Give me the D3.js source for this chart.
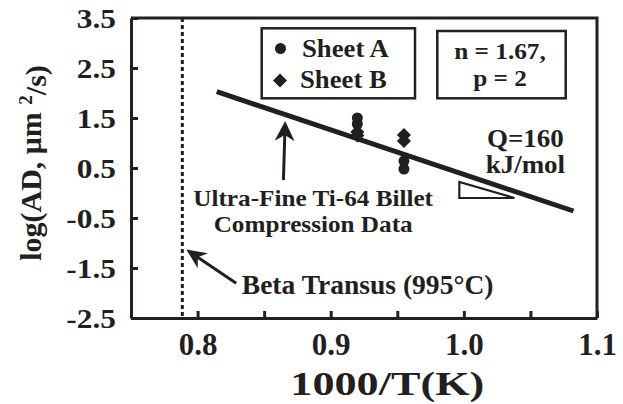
<!DOCTYPE html>
<html>
<head>
<meta charset="utf-8">
<script src="https://cdn.jsdelivr.net/npm/d3@7/dist/d3.min.js"></script>
<style>
  html, body { margin: 0; padding: 0; background: #fff; }
  svg { display: block; }
  text { font-family: "Liberation Serif", "Times New Roman", serif; font-weight: bold; fill: #231f20; }
</style>
</head>
<body>
<svg id="chart" width="623" height="404"></svg>
<script>
// Diffusivity data, log(AD) vs 1000/T
const sheetA_x = [0.920, 0.920, 0.955, 0.955];
const sheetA_y = [1.50, 1.38, 0.64, 0.48];
const sheetB_x = [0.920, 0.920, 0.955, 0.955];
const sheetB_y = [1.22, 1.15, 1.16, 1.04];

// Ultra-fine Ti-64 billet compression fit (two end points)
const fit_x = [0.8144, 1.0823];
const fit_y = [2.026, -0.36];

// Beta transus at 995 °C
const betaTransusC = 995;

const xTicks = [0.75, 0.80, 0.85, 0.90, 0.95, 1.00, 1.05, 1.10];
const xTickLabels = [0.8, 0.9, 1.0, 1.1];
const yTicks = [-2.5, -1.5, -0.5, 0.5, 1.5, 2.5, 3.5];

const margin = { left: 131, right: 26, top: 18, bottom: 86 };
const W = 623, H = 404;
const svg = d3.select("#chart");
const ink = "#231f20";
const fmt = d => d3.format(".1f")(d).replace("\u2212", "-");

const x = d3.scaleLinear().domain([0.75, 1.10]).range([margin.left, W - margin.right]);
const y = d3.scaleLinear().domain([-2.5, 3.5]).range([H - margin.bottom, margin.top]);

// frame: top and right edges
svg.append("path")
  .attr("d", `M${x(0.75)},${y(3.5)}H${x(1.10)}V${y(-2.5)}`)
  .attr("fill", "none").attr("stroke", ink).attr("stroke-width", 3);

// y axis
const yAxis = svg.append("g")
  .attr("transform", `translate(${x(0.75)},0)`)
  .call(d3.axisLeft(y).tickValues(yTicks).tickSize(-7).tickSizeOuter(0).tickPadding(15)
    .tickFormat(fmt));
yAxis.select(".domain").attr("stroke", ink).attr("stroke-width", 3);
yAxis.selectAll(".tick line").attr("stroke", ink).attr("stroke-width", 3);
yAxis.selectAll(".tick text")
  .style("font-size", "28px").attr("fill", ink).attr("dy", "0.34em")
  .attr("x", null)
  .attr("transform", "translate(-15,0) scale(1.12,1)");

// x axis
const xAxis = svg.append("g")
  .attr("transform", `translate(0,${y(-2.5)})`)
  .call(d3.axisBottom(x).tickValues(xTicks).tickSize(-7).tickSizeOuter(0).tickPadding(15)
    .tickFormat(d => xTickLabels.some(v => Math.abs(v - d) < 1e-9) ? fmt(d) : ""));
xAxis.select(".domain").attr("stroke", ink).attr("stroke-width", 3);
xAxis.selectAll(".tick line").attr("stroke", ink).attr("stroke-width", 3);
xAxis.selectAll(".tick text").style("font-size", "31px").attr("fill", ink);

// axis titles
svg.append("text")
  .attr("transform", `translate(${x(0.9425)},395) scale(1.3,1)`)
  .attr("text-anchor", "middle")
  .style("font-size", "34px")
  .text("1000/T(K)");

const yTitle = svg.append("text")
  .attr("transform", `translate(41,163) rotate(-90)`)
  .attr("text-anchor", "middle")
  .style("font-size", "30px");
yTitle.append("tspan").text("log(AD, μm ");
yTitle.append("tspan").attr("dy", "-0.45em").style("font-size", "19px").text("2");
yTitle.append("tspan").attr("dy", "0.45em").text("/s)");

// beta transus dotted line
const xBeta = 1000 / (betaTransusC + 273.15);
svg.append("line")
  .attr("x1", x(xBeta)).attr("x2", x(xBeta))
  .attr("y1", y(3.5)).attr("y2", y(-2.5))
  .attr("stroke", ink).attr("stroke-width", 3).attr("stroke-dasharray", "4,3");

// fitted line
svg.append("line")
  .attr("x1", x(fit_x[0])).attr("y1", y(fit_y[0]))
  .attr("x2", x(fit_x[1])).attr("y2", y(fit_y[1]))
  .attr("stroke", ink).attr("stroke-width", 5);

// markers: square diamonds and circles
const diamond = d3.symbol().type(d3.symbolSquare).size(100);
svg.append("g").selectAll("path")
  .data(sheetB_x.map((v, i) => [v, sheetB_y[i]]))
  .join("path")
  .attr("d", diamond)
  .attr("transform", d => `translate(${x(d[0])},${y(d[1])}) rotate(45)`)
  .attr("fill", ink);
svg.append("g").selectAll("circle")
  .data(sheetA_x.map((v, i) => [v, sheetA_y[i]]))
  .join("circle")
  .attr("cx", d => x(d[0])).attr("cy", d => y(d[1])).attr("r", 5.5)
  .attr("fill", ink);

// arrows
function arrow(x0, y0, x1, y1, len, half) {
  const px0 = x(x0), py0 = y(y0), px1 = x(x1), py1 = y(y1);
  const a = Math.atan2(py1 - py0, px1 - px0);
  const ux = Math.cos(a), uy = Math.sin(a);
  const bx = px1 - ux * len, by = py1 - uy * len;
  svg.append("line")
    .attr("x1", px0).attr("y1", py0)
    .attr("x2", px1 - ux * len * 0.6).attr("y2", py1 - uy * len * 0.6)
    .attr("stroke", ink).attr("stroke-width", 3);
  const nx = px1 - ux * len * 0.7, ny = py1 - uy * len * 0.7;
  svg.append("path")
    .attr("d", `M${px1},${py1}L${bx - uy * half},${by + ux * half}L${nx},${ny}L${bx + uy * half},${by - ux * half}Z`)
    .attr("fill", ink);
}
arrow(0.8645, 0.26, 0.8658, 1.44, 20, 10);
arrow(0.829, -1.806, 0.7915, -1.13, 20, 9);

// activation energy triangle
svg.append("path")
  .attr("d", `M${x(0.9966)},${y(0.22)}L${x(0.9966)},${y(-0.1)}L${x(1.038)},${y(-0.1)}Z`)
  .attr("fill", "none").attr("stroke", ink).attr("stroke-width", 2.2);

// annotation text
function label(xv, yv, txt, size, anchor, sx) {
  svg.append("text")
    .attr("transform", `translate(${x(xv)},${y(yv)}) scale(${sx},1)`)
    .attr("text-anchor", anchor)
    .style("font-size", size + "px")
    .text(txt);
}
label(0.8868, -0.26, "Ultra-Fine Ti-64 Billet", 24, "middle", 1.05);
label(0.8868, -0.78, "Compression Data", 24, "middle", 1.05);
label(0.8332, -2.02, "Beta Transus (995°C)", 27, "start", 1.02);
label(1.0462, 0.926, "Q=160", 25, "middle", 1.08);
label(1.0462, 0.40, "kJ/mol", 25, "middle", 1.08);

// legend box
svg.append("rect")
  .attr("x", 261.7).attr("y", 28.3).attr("width", 153.3).attr("height", 70)
  .attr("fill", "none").attr("stroke", ink).attr("stroke-width", 2.5);
svg.append("circle").attr("cx", 280.5).attr("cy", 48.5).attr("r", 5.5).attr("fill", ink);
svg.append("path").attr("d", diamond).attr("transform", "translate(280,80.5) rotate(45)").attr("fill", ink);
svg.append("text").attr("transform", "translate(302,56.5) scale(1.07,1)").style("font-size", "25px").text("Sheet A");
svg.append("text").attr("transform", "translate(300,88) scale(1.07,1)").style("font-size", "25px").text("Sheet B");

// exponent box
svg.append("rect")
  .attr("x", 437.3).attr("y", 31).attr("width", 128.4).attr("height", 67.3)
  .attr("fill", "none").attr("stroke", ink).attr("stroke-width", 2.5);
svg.append("text").attr("transform", "translate(500,58.5) scale(1.1,1)").attr("text-anchor", "middle")
  .style("font-size", "23px").text("n = 1.67,");
svg.append("text").attr("transform", "translate(500,86) scale(1.1,1)").attr("text-anchor", "middle")
  .style("font-size", "23px").text("p = 2");
</script>
</body>
</html>
